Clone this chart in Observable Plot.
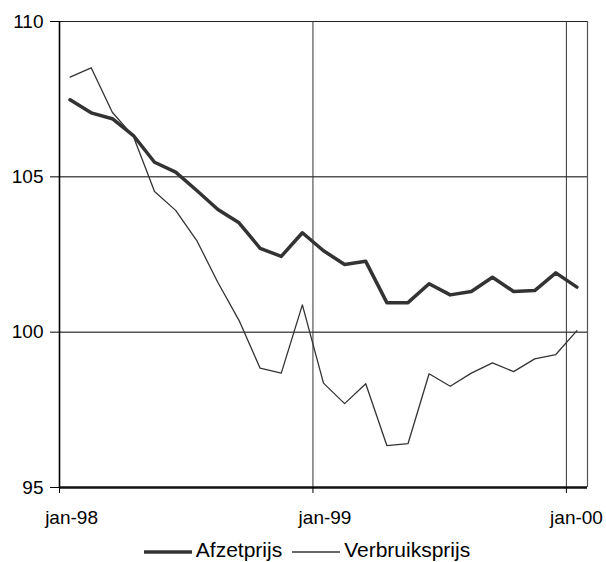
<!DOCTYPE html>
<html>
<head>
<meta charset="utf-8">
<script src="https://cdn.jsdelivr.net/npm/d3@7"></script>
<script src="https://cdn.jsdelivr.net/npm/@observablehq/plot@0.6"></script>
<style>
  body { margin: 0; background: #fff; font-family: "Liberation Sans", Arial, sans-serif; }
  #chart svg { display: block; }
  #legend { height: 24px; line-height: 24px; display: flex; justify-content: center; align-items: center; font-size: 21px; color: #000; padding-left: 8px; }
  #legend span { display: inline-flex; align-items: center; margin: 0 5px; }
  #legend svg { margin-right: 4px; position: relative; top: 2px; }
</style>
</head>
<body>
<div id="chart"></div>
<div id="legend"></div>
<script>
const months = ["jan-98","feb-98","mrt-98","apr-98","mei-98","jun-98","jul-98","aug-98","sep-98","okt-98","nov-98","dec-98",
  "jan-99","feb-99","mrt-99","apr-99","mei-99","jun-99","jul-99","aug-99","sep-99","okt-99","nov-99","dec-99","jan-00"];
const afzetprijs = [107.48,107.06,106.87,106.33,105.47,105.15,104.56,103.95,103.52,102.70,102.44,103.20,
  102.62,102.18,102.28,100.95,100.95,101.56,101.20,101.31,101.77,101.31,101.34,101.91,101.45];
const verbruiksprijs = [108.21,108.51,107.08,106.30,104.53,103.92,102.95,101.60,100.38,98.84,98.68,100.88,
  98.36,97.70,98.34,96.35,96.41,98.66,98.26,98.68,99.01,98.73,99.14,99.28,100.05];
const yTicks = [95,100,105,110];
const xLabels = [{i: 0, t: "jan-98"}, {i: 12, t: "jan-99"}];
const lastLabel = [{i: 24, t: "jan-00"}];

const dataA = months.map((m, i) => ({i, v: afzetprijs[i]}));
const dataV = months.map((m, i) => ({i, v: verbruiksprijs[i]}));

const plot = Plot.plot({
  width: 606,
  height: 538,
  marginLeft: 59,
  marginRight: 19,
  marginTop: 21,
  marginBottom: 51,
  style: {fontFamily: "Liberation Sans, Arial, sans-serif", fontSize: "19px", color: "#000", background: "#fff"},
  x: {domain: [-0.5, 24.5]},
  y: {domain: [95, 110]},
  marks: [
    Plot.ruleY([100, 105], {stroke: "#000", strokeWidth: 1}),
    Plot.ruleY([110], {stroke: "#222", strokeWidth: 1.2}),
    Plot.ruleX([11.5, 23.5], {stroke: "#333", strokeWidth: 1}),
    Plot.ruleX([24.5], {stroke: "#555", strokeWidth: 1.2}),
    Plot.line(dataV, {x: "i", y: "v", stroke: "#333", strokeWidth: 1.3}),
    Plot.line(dataA, {x: "i", y: "v", stroke: "#333", strokeWidth: 3.5}),
    Plot.ruleX([-0.5], {stroke: "#000", strokeWidth: 1.6}),
    Plot.ruleY([95], {stroke: "#111", strokeWidth: 2.5}),
    Plot.axisY({ticks: yTicks, tickSize: 9, tickPadding: 7, label: null, stroke: "#000", fontSize: 19}),
    Plot.axisX({ticks: [-0.5, 11.5, 23.5], tickSize: 6, tickFormat: () => "", label: null, stroke: "#000"}),
    Plot.text(xLabels, {x: "i", text: "t", frameAnchor: "bottom", dy: 30, dx: 1.5, lineAnchor: "middle", fontSize: 19, fill: "#000"}),
    Plot.text(lastLabel, {x: "i", text: "t", frameAnchor: "bottom", dy: 30, dx: 26, textAnchor: "end", lineAnchor: "middle", fontSize: 19, fill: "#000"})
  ]
});
document.getElementById("chart").appendChild(plot);

const legend = document.getElementById("legend");
[["Afzetprijs", 3.5], ["Verbruiksprijs", 1.3]].forEach(([name, w]) => {
  const s = document.createElement("span");
  s.innerHTML = `<svg width="48" height="10"><line x1="0" x2="48" y1="5" y2="5" stroke="#333" stroke-width="${w}"/></svg>${name}`;
  legend.appendChild(s);
});
</script>
</body>
</html>
